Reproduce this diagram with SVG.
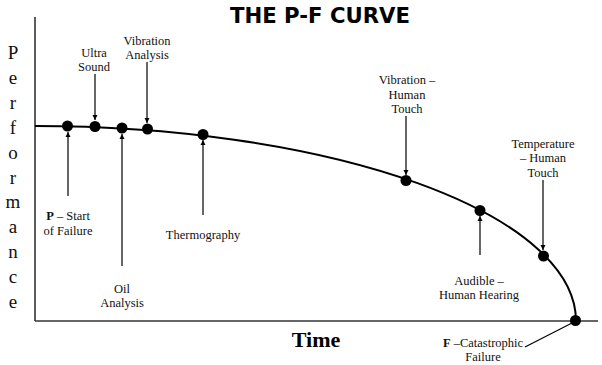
<svg xmlns="http://www.w3.org/2000/svg" width="602" height="365" viewBox="0 0 602 365">
<defs>
<marker id="ah" viewBox="0 0 10 10" refX="10" refY="5" markerWidth="5" markerHeight="6" orient="auto" markerUnits="userSpaceOnUse">
<path d="M0,0 L10,5 L0,10 z" fill="#000"/>
</marker>
<style>
.lbl{font-family:"Liberation Serif","Times New Roman",serif;font-size:12.5px;fill:#111;text-anchor:middle}
.ax{font-family:"Liberation Serif","Times New Roman",serif;font-size:19px;fill:#111;text-anchor:middle}
.arr{stroke:#000;stroke-width:1.2;fill:none;marker-end:url(#ah)}
.dot{fill:#000}
</style>
</defs>
<rect width="602" height="365" fill="#fff"/>
<text x="320" y="23" font-family="DejaVu Sans,Verdana,sans-serif" font-weight="bold" font-size="20.5" text-anchor="middle" textLength="180" lengthAdjust="spacingAndGlyphs" fill="#000">THE P-F CURVE</text>
<g id="axes" stroke="#333" stroke-width="1.6" fill="none">
<line x1="35" y1="17" x2="35" y2="321"/>
<line x1="35" y1="321" x2="598" y2="321"/>
</g>
<g id="ylabel">
<text class="ax" x="13" y="59">P</text>
<text class="ax" x="13" y="84">e</text>
<text class="ax" x="13" y="109">r</text>
<text class="ax" x="13" y="134">f</text>
<text class="ax" x="13" y="159">o</text>
<text class="ax" x="13" y="184">r</text>
<text class="ax" x="13" y="208">m</text>
<text class="ax" x="13" y="233">a</text>
<text class="ax" x="13" y="258">n</text>
<text class="ax" x="13" y="283">c</text>
<text class="ax" x="13" y="308">e</text>
</g>
<text x="316" y="347" font-family="Liberation Serif,Times New Roman,serif" font-weight="bold" font-size="22" text-anchor="middle" fill="#000">Time</text>
<path id="curve" d="M35,126 A541,195 0 0 1 576,321" fill="none" stroke="#000" stroke-width="2"/>
<g id="connectors">
<line class="arr" x1="95" y1="74" x2="95" y2="120"/>
<line class="arr" x1="147" y1="62" x2="147" y2="123"/>
<line class="arr" x1="68" y1="196" x2="68" y2="132"/>
<line class="arr" x1="122" y1="266" x2="122" y2="134"/>
<line class="arr" x1="203" y1="215" x2="203" y2="140"/>
<line class="arr" x1="406" y1="116" x2="406" y2="175"/>
<line class="arr" x1="480" y1="255" x2="480" y2="216"/>
<line class="arr" x1="543" y1="180" x2="543" y2="250"/>
<line x1="525" y1="347" x2="572" y2="323" stroke="#000" stroke-width="1.2"/>
</g>
<g id="dots">
<circle class="dot" cx="67.5" cy="126" r="5.5"/>
<circle class="dot" cx="95" cy="126.5" r="5.5"/>
<circle class="dot" cx="122" cy="128" r="5.5"/>
<circle class="dot" cx="147.5" cy="129" r="5.5"/>
<circle class="dot" cx="203" cy="134.5" r="5.5"/>
<circle class="dot" cx="406" cy="180.5" r="5.5"/>
<circle class="dot" cx="480" cy="210.5" r="5.5"/>
<circle class="dot" cx="543.5" cy="256" r="5.5"/>
<circle class="dot" cx="575.5" cy="320.5" r="5.5"/>
</g>
<g id="n-ultra"><text class="lbl" x="94" y="57">Ultra</text><text class="lbl" x="94" y="71">Sound</text></g>
<g id="n-vib"><text class="lbl" x="147" y="45">Vibration</text><text class="lbl" x="147" y="59">Analysis</text></g>
<g id="n-p"><text class="lbl" x="68" y="220"><tspan font-weight="bold">P</tspan> – Start</text><text class="lbl" x="68" y="235">of Failure</text></g>
<g id="n-oil"><text class="lbl" x="122" y="293">Oil</text><text class="lbl" x="122" y="307">Analysis</text></g>
<g id="n-thermo"><text class="lbl" x="203" y="239">Thermography</text></g>
<g id="n-vibhuman"><text class="lbl" x="407" y="84">Vibration –</text><text class="lbl" x="407" y="99">Human</text><text class="lbl" x="407" y="113">Touch</text></g>
<g id="n-temp"><text class="lbl" x="543" y="148">Temperature</text><text class="lbl" x="543" y="162">– Human</text><text class="lbl" x="543" y="177">Touch</text></g>
<g id="n-audible"><text class="lbl" x="479" y="285">Audible –</text><text class="lbl" x="479" y="299">Human Hearing</text></g>
<g id="n-f"><text class="lbl" x="483" y="347"><tspan font-weight="bold">F</tspan> –Catastrophic</text><text class="lbl" x="483" y="361">Failure</text></g>
</svg>
